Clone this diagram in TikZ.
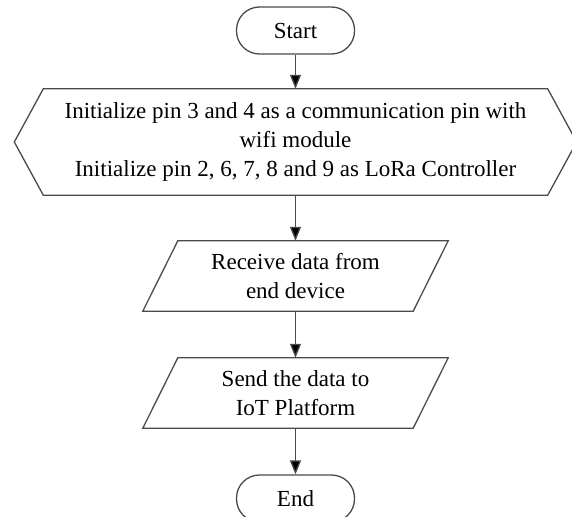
\documentclass[tikz,border=0pt]{standalone}
\usepackage{fontspec}
\setmainfont{Liberation Serif}
\usetikzlibrary{arrows.meta}
\definecolor{edgegray}{HTML}{4A4A4A}
\begin{document}
\begin{tikzpicture}[x=1pt,y=-1pt,
  every node/.style={font=\fontsize{23}{29}\selectfont, align=center, inner sep=0pt},
  terminal/.style={draw=edgegray, line width=1.3pt, rounded corners=23pt, minimum width=118pt, minimum height=47pt},
  box/.style={draw=none},
  shapeline/.style={draw=edgegray, line width=1.3pt, line join=miter},
  flow/.style={draw=edgegray, line width=1.3pt, -{Triangle[length=14pt,width=11pt,fill=black]}}
]
\useasboundingbox (0,0) rectangle (572,516);
\node[terminal] (start) at (295.5,30.5) {Start};
\node[box, minimum width=504pt, minimum height=106pt] (init) at (295.5,142)
  {Initialize pin 3 and 4 as a communication pin with\\wifi module\\Initialize pin 2, 6, 7, 8 and 9 as LoRa Controller};
\draw[shapeline] (init.north west) -- (init.north east) -- ([xshift=29pt]init.east) -- (init.south east) -- (init.south west) -- ([xshift=-29pt]init.west) -- cycle;
\node[box, minimum width=270pt, minimum height=70pt] (recv) at (295.5,276) {Receive data from\\end device};
\draw[shapeline] ([xshift=17.5pt]recv.north west) -- ([xshift=17.5pt]recv.north east) -- ([xshift=-17.5pt]recv.south east) -- ([xshift=-17.5pt]recv.south west) -- cycle;
\node[box, minimum width=270pt, minimum height=70pt] (send) at (295.5,393) {Send the data to\\IoT Platform};
\draw[shapeline] ([xshift=17.5pt]send.north west) -- ([xshift=17.5pt]send.north east) -- ([xshift=-17.5pt]send.south east) -- ([xshift=-17.5pt]send.south west) -- cycle;
\node[terminal] (end) at (295.5,498.5) {End};
\draw[flow] (start) -- (init);
\draw[flow] (init) -- (recv);
\draw[flow] (recv) -- (send);
\draw[flow] (send) -- (end);
\end{tikzpicture}
\end{document}
